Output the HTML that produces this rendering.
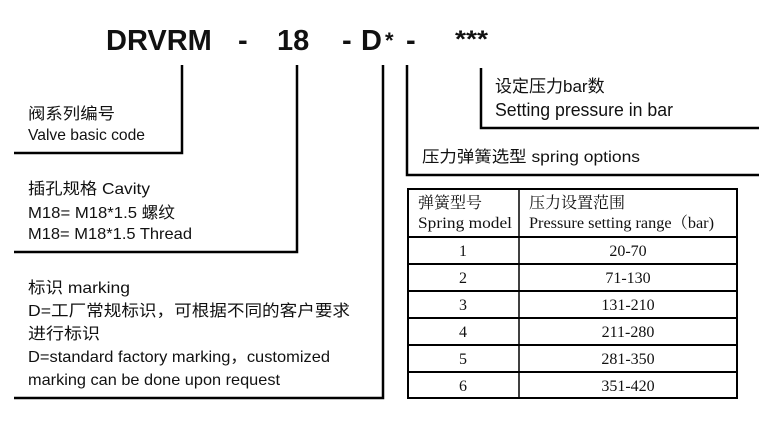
<!DOCTYPE html>
<html><head><meta charset="utf-8"><style>
body{margin:0;background:#fff}
svg{display:block}
.s{font-family:"Liberation Sans","Noto Sans CJK SC",sans-serif;fill:#111}
.t{font-family:"Liberation Serif","Noto Serif CJK SC",serif;fill:#111;font-size:15px}
</style></head><body>
<svg width="759" height="424" viewBox="0 0 759 424">
<g class="s" font-weight="bold" font-size="29">
<text x="106" y="50">DRVRM</text>
<text x="238" y="50">-</text>
<text x="277" y="50">18</text>
<text x="342" y="50">-</text>
<text x="361" y="50">D</text>
<text x="385" y="48" font-size="22">*</text>
<text x="406" y="50">-</text>
<text x="455" y="47" font-size="24" textLength="33" lengthAdjust="spacingAndGlyphs">***</text>
</g>
<g stroke="#000" stroke-width="2.5" fill="none">
<polyline points="182,65 182,153 14,153"/>
<polyline points="297,65 297,252 14,252"/>
<polyline points="383,65 383,398 14,398"/>
<polyline points="407,65 407,175 759,175"/>
<polyline points="481,68 481,128 759,128"/>
</g>
<g class="s" font-size="16">
<text x="28" y="119" textLength="87" lengthAdjust="spacingAndGlyphs">阀系列编号</text>
<text x="28" y="140" textLength="117" lengthAdjust="spacingAndGlyphs">Valve basic code</text>
<text x="28" y="194" textLength="122" lengthAdjust="spacingAndGlyphs">插孔规格 Cavity</text>
<text x="28" y="218" textLength="147" lengthAdjust="spacingAndGlyphs">M18= M18*1.5 螺纹</text>
<text x="28" y="239" textLength="164" lengthAdjust="spacingAndGlyphs">M18= M18*1.5 Thread</text>
<text x="28" y="293" textLength="102" lengthAdjust="spacingAndGlyphs">标识 marking</text>
<text x="28" y="316" textLength="322" lengthAdjust="spacingAndGlyphs">D=工厂常规标识，可根据不同的客户要求</text>
<text x="28" y="339" textLength="72" lengthAdjust="spacingAndGlyphs">进行标识</text>
<text x="28" y="362" textLength="302" lengthAdjust="spacingAndGlyphs">D=standard factory marking，customized</text>
<text x="28" y="385" textLength="252" lengthAdjust="spacingAndGlyphs">marking can be done upon request</text>
<text x="495" y="92" font-size="17">设定压力bar数</text>
<text x="495" y="116" font-size="18" textLength="178" lengthAdjust="spacingAndGlyphs">Setting pressure in bar</text>
<text x="422" y="162" font-size="16" textLength="218" lengthAdjust="spacingAndGlyphs">压力弹簧选型  spring options</text>
</g>
<g stroke="#000" fill="none">
<rect x="408" y="189" width="329" height="209" stroke-width="2"/>
<line x1="519" y1="189" x2="519" y2="398" stroke-width="1.5"/>
<line x1="408" y1="237" x2="737" y2="237" stroke-width="2"/>
<line x1="408" y1="264" x2="737" y2="264" stroke-width="2"/>
<line x1="408" y1="291" x2="737" y2="291" stroke-width="2"/>
<line x1="408" y1="318" x2="737" y2="318" stroke-width="2"/>
<line x1="408" y1="345" x2="737" y2="345" stroke-width="2"/>
<line x1="408" y1="372" x2="737" y2="372" stroke-width="2"/>
</g>
<g class="t">
<text x="418" y="208" font-size="16">弹簧型号</text>
<text x="418" y="228" font-size="16" textLength="94" lengthAdjust="spacingAndGlyphs">Spring model</text>
<text x="529" y="208" font-size="16">压力设置范围</text>
<text x="529" y="228" font-size="16" textLength="185" lengthAdjust="spacingAndGlyphs">Pressure setting range（bar)</text>
<g text-anchor="middle" font-size="16">
<text x="463" y="256">1</text><text x="628" y="256">20-70</text>
<text x="463" y="283">2</text><text x="628" y="283">71-130</text>
<text x="463" y="310">3</text><text x="628" y="310">131-210</text>
<text x="463" y="337">4</text><text x="628" y="337">211-280</text>
<text x="463" y="364">5</text><text x="628" y="364">281-350</text>
<text x="463" y="391">6</text><text x="628" y="391">351-420</text>
</g></g>
</svg>
</body></html>
